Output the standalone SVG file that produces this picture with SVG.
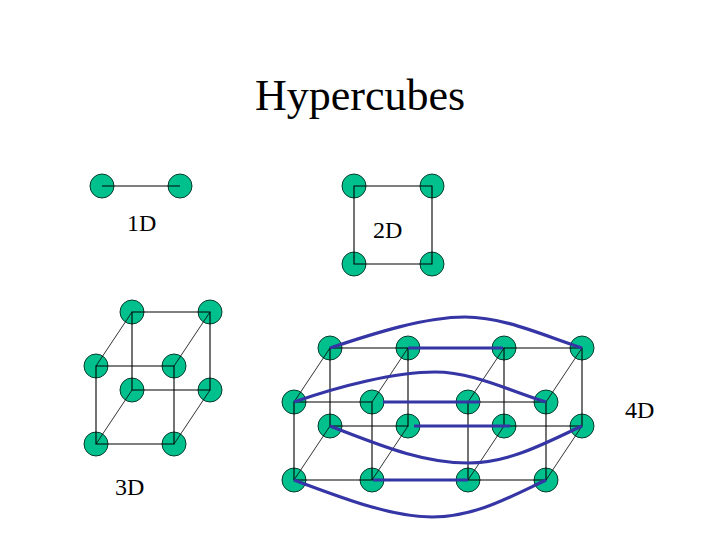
<svg xmlns="http://www.w3.org/2000/svg" width="720" height="540" viewBox="0 0 720 540">
<style>
.n{fill:#00c08e;stroke:#0a3a2c;stroke-width:1}
.e{stroke:#000;stroke-width:1.1;fill:none}
.d{stroke:#000;stroke-width:.8;fill:none}
.b{stroke:#3535a5;stroke-width:3.2;fill:none}
text{font-family:"Liberation Serif","Times New Roman",serif;fill:#000}
.t{font-size:44px}
.l{font-size:24px}
</style>
<rect width="720" height="540" fill="#fff"/>
<text class="t" x="255" y="110">Hypercubes</text>
<text class="l" x="127" y="231">1D</text>
<text class="l" x="373" y="238">2D</text>
<text class="l" x="115" y="495">3D</text>
<text class="l" x="625" y="418">4D</text>
<g id="nodes-1d">
<circle id="a1" class="n" cx="102" cy="186" r="12"/><circle id="a2" class="n" cx="180" cy="186" r="12"/>
</g>
<g id="nodes-2d">
<circle id="b1" class="n" cx="354" cy="186" r="12"/><circle id="b2" class="n" cx="432" cy="186" r="12"/>
<circle id="b3" class="n" cx="354" cy="264" r="12"/><circle id="b4" class="n" cx="432" cy="264" r="12"/>
</g>
<g id="nodes-3d">
<circle id="c1" class="n" cx="132" cy="312" r="12"/><circle id="c2" class="n" cx="210" cy="312" r="12"/>
<circle id="c3" class="n" cx="132" cy="390" r="12"/><circle id="c4" class="n" cx="210" cy="390" r="12"/>
<circle id="c5" class="n" cx="96" cy="366" r="12"/><circle id="c6" class="n" cx="174" cy="366" r="12"/>
<circle id="c7" class="n" cx="96" cy="444" r="12"/><circle id="c8" class="n" cx="174" cy="444" r="12"/>
</g>
<g id="nodes-4d">
<circle id="d1" class="n" cx="330" cy="348" r="12"/><circle id="d2" class="n" cx="408" cy="348" r="12"/>
<circle id="d3" class="n" cx="504" cy="348" r="12"/><circle id="d4" class="n" cx="582" cy="348" r="12"/>
<circle id="d5" class="n" cx="330" cy="426" r="12"/><circle id="d6" class="n" cx="408" cy="426" r="12"/>
<circle id="d7" class="n" cx="504" cy="426" r="12"/><circle id="d8" class="n" cx="582" cy="426" r="12"/>
<circle id="d9" class="n" cx="294" cy="402" r="12"/><circle id="d10" class="n" cx="372" cy="402" r="12"/>
<circle id="d11" class="n" cx="468" cy="402" r="12"/><circle id="d12" class="n" cx="546" cy="402" r="12"/>
<circle id="d13" class="n" cx="294" cy="480" r="12"/><circle id="d14" class="n" cx="372" cy="480" r="12"/>
<circle id="d15" class="n" cx="468" cy="480" r="12"/><circle id="d16" class="n" cx="546" cy="480" r="12"/>
</g>
<g id="connectors">
<path class="e" d="M102 186H180"/>
<path class="e" d="M354 186H432V264H354Z"/>
<path class="e" d="M132 312H210V390H132ZM96 366H174V444H96Z"/>
<path class="d" d="M132 312L96 366M210 312L174 366M132 390L96 444M210 390L174 444"/>
<path class="e" d="M330 348H408V426H330ZM504 348H582V426H504ZM294 402H372V480H294ZM468 402H546V480H468Z"/>
<path class="d" d="M330 348L294 402M408 348L372 402M504 348L468 402M582 348L546 402M330 426L294 480M408 426L372 480M504 426L468 480M582 426L546 480"/>
<path class="b" d="M330 348C375 333 425 317 465 317C503 317 540 334 582 348"/>
<path class="b" d="M294 402C340 386 395 372 435 372C472 372 505 389 546 402"/>
<path class="b" d="M330 426C375 443 420 463 468 463C510 463 545 443 582 426"/>
<path class="b" d="M294 480C340 497 390 517 432 517C475 517 510 497 546 480"/>
<path class="b" d="M408 348H503M383 402H480M414 426H510M373 480H468"/>
</g>
</svg>
